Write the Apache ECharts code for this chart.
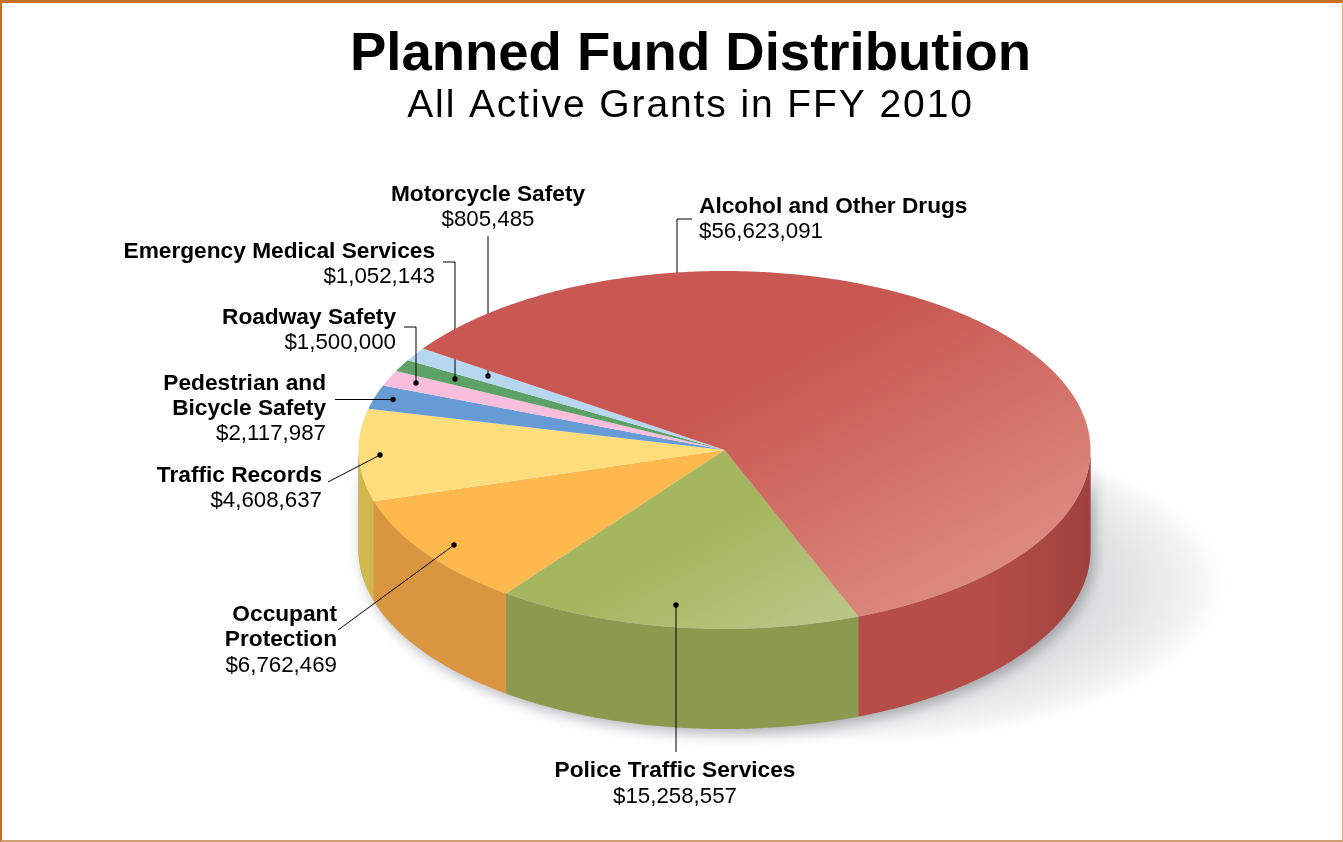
<!DOCTYPE html>
<html><head><meta charset="utf-8">
<style>
html,body{margin:0;padding:0;background:#fff;overflow:hidden}
#c{position:absolute;left:0;top:0;width:1343px;height:842px}
#f{position:absolute;left:0;top:0;width:1343px;height:842px;box-sizing:border-box;pointer-events:none;
border-top:3px solid #c4701e;border-left:2px solid #c4701e;border-right:1px solid #d9b08c;border-bottom:2px solid #cfa070}
</style></head><body>
<div id="c"></div><div id="f"></div>
<script src="https://cdn.jsdelivr.net/npm/echarts@6/dist/echarts.min.js"></script>
<script>
// ---- data ----
const categories = ['Alcohol and Other Drugs','Police Traffic Services','Occupant Protection','Traffic Records','Pedestrian and Bicycle Safety','Roadway Safety','Emergency Medical Services','Motorcycle Safety'];
const amounts = [56623091,15258557,6762469,4608637,2117987,1500000,1052143,805485];
// how much the tilted view stretches each slice's sweep in the reference drawing
const viewStretch = [0.931,0.938,1.337,1.599,0.908,0.838,0.913,1.346];
const title = 'Planned Fund Distribution';
const subtitle = 'All Active Grants in FFY 2010';

// the subtitle is set with open tracking in the reference
const nativeFillText = CanvasRenderingContext2D.prototype.fillText;
CanvasRenderingContext2D.prototype.fillText = function(t,x,y,m){
  if(t===subtitle && 'letterSpacing' in this){
    this.save(); this.letterSpacing='1.9px';
    nativeFillText.call(this,t,x,y);
    this.restore(); return;
  }
  return m===undefined?nativeFillText.call(this,t,x,y):nativeFillText.call(this,t,x,y,m);
};

// ---- styles and layout ----
const G = echarts.graphic.LinearGradient;
const topFills = [
  new G(790,365,924,610,[{offset:0,color:'#c95852'},{offset:1,color:'#dc8a7e'}],true),
  new G(730,520,797,643,[{offset:0,color:'#a5b660'},{offset:1,color:'#b9c785'}],true),
  '#fdb94d','#fedd7c','#669bd6','#f8bedb','#5da166','#b7d6f0'];
const wallFills = [
  new G(985,0,1090,0,[{offset:0,color:'#b64d48'},{offset:1,color:'#9f423e'}],true),
  '#8a9a4e','#d9953f','#d1b74c',null,null,null,null];
const pie = {cx:724.5,cy:450,rx:366,ry:179,depth:100,startDeg:214.5};
const labelFont = '"Liberation Sans",Arial,sans-serif';

// slice sweeps from the values
const total = amounts.reduce((a,b)=>a+b,0);
const raw = amounts.map((v,i)=>v/total*360*viewStretch[i]);
const rawSum = raw.reduce((a,b)=>a+b,0);
const sweeps = raw.map(d=>d*360/rawSum);
const starts = []; sweeps.reduce((a,d,i)=>(starts[i]=a,a+d),pie.startDeg);

const pt=(deg,dy)=>{const r=deg*Math.PI/180;return [pie.cx+pie.rx*Math.cos(r),pie.cy+pie.ry*Math.sin(r)+(dy||0)];};
function arc(a,b,dy){const n=Math.max(2,Math.ceil(Math.abs(b-a)*2));const p=[];for(let i=0;i<=n;i++)p.push(pt(a+(b-a)*i/n,dy));return p;}
function topEl(i){
  const a=starts[i],b=a+sweeps[i];
  return {type:'polygon',shape:{points:[[pie.cx,pie.cy]].concat(arc(a,b))},
    style:{fill:topFills[i],stroke:null},z2:5};
}
function wallEl(i){
  let a=starts[i],b=a+sweeps[i];
  const out=[];
  [0,360].forEach(o=>{
    const s=Math.max(a,o),e=Math.min(b,o+180);
    if(e>s&&wallFills[i]) out.push({type:'polygon',shape:{points:arc(s,e).concat(arc(e,s,pie.depth))},style:{fill:wallFills[i]},z2:3});
  });
  return out;
}
const sliceData = amounts.map((v,i)=>({name:categories[i],value:v}));

// annotations
const leaders = [
  {pts:[[692,219],[677,219],[677,276]]},
  {pts:[[488,236],[488,376]],dot:[488,376]},
  {pts:[[443,262],[455,262],[455,379]],dot:[455,379]},
  {pts:[[404,327],[416,327],[416,383]],dot:[416,383]},
  {pts:[[335,399.5],[393,399.5]],dot:[393,399.5]},
  {pts:[[328,482],[380,455]],dot:[380,455]},
  {pts:[[338,630],[454,545]],dot:[454,545]},
  {pts:[[676,752],[676,605]],dot:[676,605]}
];
const money=v=>'$'+v.toLocaleString('en-US');
const labelSpec = [
  {i:0,x:699,y:206.5,vy:232,align:'left',lines:['Alcohol and Other Drugs']},
  {i:7,x:488,y:194.5,vy:219.5,align:'center',lines:['Motorcycle Safety']},
  {i:6,x:435,y:251.5,vy:276.5,align:'right',lines:['Emergency Medical Services']},
  {i:5,x:396,y:317.5,vy:342.5,align:'right',lines:['Roadway Safety']},
  {i:4,x:326,y:383.5,vy:433.5,align:'right',lines:['Pedestrian and','Bicycle Safety']},
  {i:3,x:322,y:475.5,vy:500.5,align:'right',lines:['Traffic Records']},
  {i:2,x:337,y:614.5,vy:665.5,align:'right',lines:['Occupant','Protection']},
  {i:1,x:675,y:770.5,vy:796.5,align:'center',lines:['Police Traffic Services']}
];
const LH=25;
const graphics=[];
leaders.forEach(l=>{
  graphics.push({type:'polyline',z:3,silent:true,shape:{points:l.pts},style:{stroke:'#000',lineWidth:1,fill:null}});
  if(l.dot) graphics.push({type:'circle',z:6,silent:true,shape:{cx:l.dot[0],cy:l.dot[1],r:2.7},style:{fill:'#000'}});
});
labelSpec.forEach(s=>{
  s.lines.forEach((t,k)=>graphics.push({type:'text',z:7,silent:true,x:s.x,y:s.y+k*LH,
    style:{text:t,align:s.align,verticalAlign:'middle',font:'bold 22.7px '+labelFont,fill:'#000'}}));
  graphics.push({type:'text',z:7,silent:true,x:s.x,y:s.vy,
    style:{text:money(amounts[s.i]),align:s.align,verticalAlign:'middle',font:'22.3px '+labelFont,fill:'#000'}});
});

const chart=echarts.init(document.getElementById('c'),null,{renderer:'canvas',width:1343,height:842});
chart.setOption({
  animation:false,
  backgroundColor:'#fff',
  title:[
    {text:title,left:685.5,top:22,textAlign:'center',textStyle:{fontFamily:labelFont,fontWeight:'bold',fontSize:54.5,color:'#000'}},
    {text:subtitle,left:685.5,top:82,textAlign:'center',textStyle:{fontFamily:labelFont,fontWeight:'normal',fontSize:39,color:'#000'}}
  ],
  graphic:{elements:graphics},
  series:[
    {type:'custom',name:'base',coordinateSystem:'none',z:2,silent:true,data:sliceData,
     renderItem:(p)=>{
       const i=p.dataIndex, children=[];
       if(i===0){
         children.push({type:'circle',z2:0,x:845,y:585,scaleX:392,scaleY:165,shape:{cx:0,cy:0,r:1},
           style:{fill:new echarts.graphic.RadialGradient(.5,.5,.5,[
             {offset:0,color:'#c8cacd'},{offset:.55,color:'#d4d6d8'},{offset:.75,color:'#e5e7e7'},{offset:.9,color:'#f3f4f4'},{offset:1,color:'rgba(255,255,255,0)'}])}});
         children.push({type:'polygon',z2:1,shape:{points:arc(0,180,pie.depth-1).concat(arc(180,0,0))},
           style:{fill:'#888',shadowBlur:14,shadowColor:'rgba(70,75,85,.4)',shadowOffsetX:4,shadowOffsetY:6}});
       }
       wallEl(i).forEach(e=>children.push(e));
       if(i!==0) children.push(topEl(i));
       return {type:'group',children};
     }},
    {type:'custom',name:'top',coordinateSystem:'none',z:4,silent:true,data:sliceData.slice(0,1),
     renderItem:(p)=>({type:'group',children:[topEl(0)]})}
  ]
});
</script></body></html>
